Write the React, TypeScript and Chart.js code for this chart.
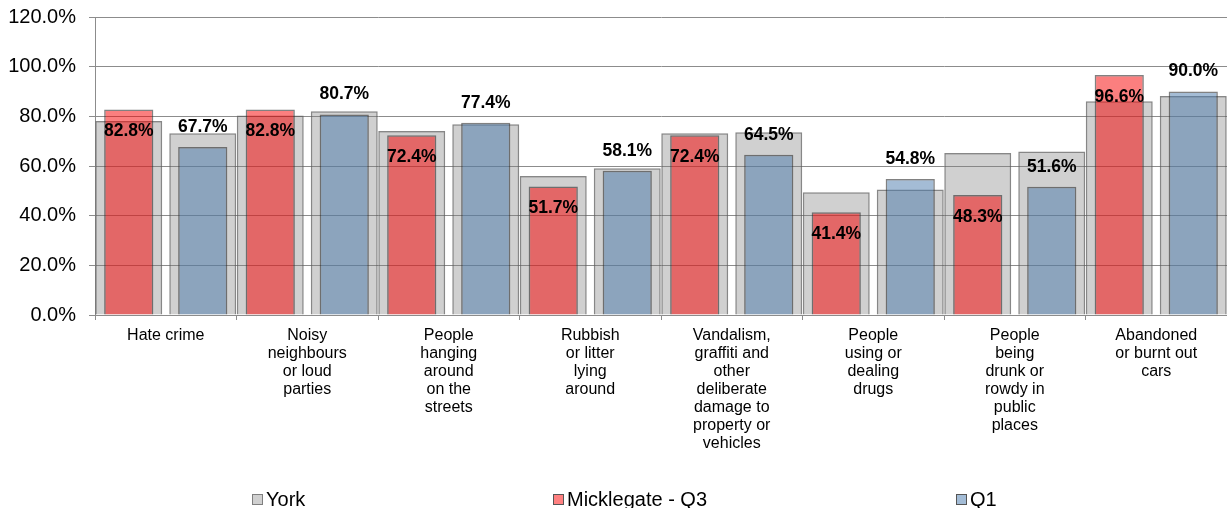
import React, { useEffect, useRef } from 'react';
import { Chart, registerables } from 'chart.js';

Chart.register(...registerables);

const FONT = '"Liberation Sans", Arial, sans-serif';

const categories: string[][] = [
  ['Hate crime'],
  ['Noisy', 'neighbours', 'or loud', 'parties'],
  ['People', 'hanging', 'around', 'on the', 'streets'],
  ['Rubbish', 'or litter', 'lying', 'around'],
  ['Vandalism,', 'graffiti and', 'other', 'deliberate', 'damage to', 'property or', 'vehicles'],
  ['People', 'using or', 'dealing', 'drugs'],
  ['People', 'being', 'drunk or', 'rowdy in', 'public', 'places'],
  ['Abandoned', 'or burnt out', 'cars'],
];

const micklegateQ3 = [82.8, 82.8, 72.4, 51.7, 72.4, 41.4, 48.3, 96.6];
const q1 = [67.7, 80.7, 77.4, 58.1, 64.5, 54.8, 51.6, 90.0];
const yorkBehindQ3 = [78.1, 80.3, 74.1, 56.0, 73.2, 49.4, 65.2, 86.1];
const yorkBehindQ1 = [73.2, 82.0, 76.8, 59.1, 73.6, 50.5, 65.8, 88.2];

const yTicks = [0, 20, 40, 60, 80, 100, 120];
const legendLabels = ['York', 'Micklegate - Q3', 'Q1'];

const YORK_FILL = 'rgba(128,128,128,0.37)';
const YORK_BORDER = 'rgba(95,95,95,0.75)';
const RED_FILL = 'rgba(248,0,0,0.5)';
const BLUE_FILL = 'rgba(74,122,172,0.5)';
const BAR_BORDER = 'rgba(45,45,45,0.6)';
const GRID = '#8c8c8c';

const valueLabelPlugin = {
  id: 'valueLabels',
  afterDatasetsDraw(chart: any) {
    const ctx = chart.ctx;
    ctx.save();
    ctx.font = `bold 17.5px ${FONT}`;
    ctx.fillStyle = '#000';
    ctx.textAlign = 'center';
    ctx.textBaseline = 'middle';
    [2, 3].forEach((di) => {
      const meta = chart.getDatasetMeta(di);
      const data = chart.data.datasets[di].data as number[];
      meta.data.forEach((bar: any, i: number) => {
        const y = di === 2 ? bar.y + 22 : bar.y - 20;
        ctx.fillText(data[i].toFixed(1) + '%', bar.x, y);
      });
    });
    ctx.restore();
  },
};

const legendPlugin = {
  id: 'customLegend',
  afterDraw(chart: any) {
    const ctx = chart.ctx;
    const xs = [252, 553, 956];
    const fills = ['#d0d0d0', '#ff8080', '#a3bcd6'];
    const borders = ['#7f7f7f', '#555555', '#555555'];
    ctx.save();
    ctx.font = `20px ${FONT}`;
    ctx.textBaseline = 'alphabetic';
    ctx.textAlign = 'left';
    legendLabels.forEach((label, i) => {
      ctx.fillStyle = fills[i];
      ctx.fillRect(xs[i] + 0.5, 494.5, 10, 10);
      ctx.strokeStyle = borders[i];
      ctx.lineWidth = 1;
      ctx.strokeRect(xs[i] + 0.5, 494.5, 10, 10);
      ctx.fillStyle = '#000';
      ctx.fillText(label, xs[i] + 14, 506);
    });
    ctx.restore();
  },
};

export default function App() {
  const canvasRef = useRef<HTMLCanvasElement | null>(null);

  useEffect(() => {
    if (!canvasRef.current) return;
    const catPct = 148 / 141.5;
    const chart = new Chart(canvasRef.current, {
      type: 'bar',
      data: {
        labels: categories,
        datasets: [
          {
            label: 'York',
            data: yorkBehindQ3,
            stack: 'a',
            backgroundColor: YORK_FILL,
            borderColor: YORK_BORDER,
            borderWidth: 1.5,
            categoryPercentage: catPct,
            barPercentage: 0.905,
            order: 2,
          },
          {
            label: 'York ',
            data: yorkBehindQ1,
            stack: 'b',
            backgroundColor: YORK_FILL,
            borderColor: YORK_BORDER,
            borderWidth: 1.5,
            categoryPercentage: catPct,
            barPercentage: 0.905,
            order: 2,
          },
          {
            label: 'Micklegate - Q3',
            data: micklegateQ3,
            stack: 'a',
            backgroundColor: RED_FILL,
            borderColor: BAR_BORDER,
            borderWidth: 1.5,
            categoryPercentage: catPct,
            barPercentage: 0.665,
            order: 1,
          },
          {
            label: 'Q1',
            data: q1,
            stack: 'b',
            backgroundColor: BLUE_FILL,
            borderColor: BAR_BORDER,
            borderWidth: 1.5,
            categoryPercentage: catPct,
            barPercentage: 0.665,
            order: 1,
          },
        ],
      },
      options: {
        responsive: false,
        animation: false,
        devicePixelRatio: 1,
        layout: { padding: { top: 17, right: 0, bottom: 0, left: 0 } },
        plugins: {
          legend: { display: false },
          tooltip: { enabled: false },
          title: { display: false },
        },
        scales: {
          x: {
            type: 'category',
            offset: true,
            grid: {
              display: true,
              drawOnChartArea: false,
              offset: true,
              tickLength: 5,
              color: GRID,
            },
            border: { color: GRID },
            ticks: {
              autoSkip: false,
              maxRotation: 0,
              minRotation: 0,
              padding: 7,
              color: '#000',
              font: { family: FONT, size: 16, lineHeight: 1.125 },
            },
            afterFit(scale: any) {
              scale.height = 193;
              scale.paddingLeft = 0;
              scale.paddingRight = 0;
            },
          },
          y: {
            min: 0,
            max: 120,
            stacked: false,
            afterBuildTicks(scale: any) {
              scale.ticks = yTicks.map((v) => ({ value: v }));
            },
            ticks: {
              color: '#000',
              padding: 13,
              font: { family: FONT, size: 20 },
              callback: (v: any) => Number(v).toFixed(1) + '%',
            },
            grid: { color: GRID, tickLength: 6 },
            border: { color: GRID },
            afterFit(scale: any) {
              scale.width = 95;
              scale.paddingTop = 0;
              scale.paddingBottom = 0;
            },
          },
        },
      } as any,
      plugins: [valueLabelPlugin, legendPlugin],
    });
    return () => chart.destroy();
  }, []);

  return (
    <div style={{ position: 'fixed', left: 0, top: 0, width: 1227, height: 508, background: '#fff' }}>
      <canvas ref={canvasRef} width={1227} height={508} style={{ display: 'block', width: 1227, height: 508 }} />
    </div>
  );
}
